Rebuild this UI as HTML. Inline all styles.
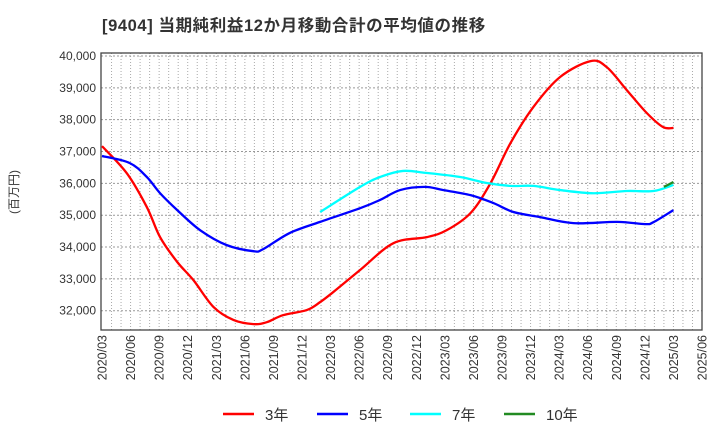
<!DOCTYPE html>
<html><head><meta charset="utf-8"><style>
body{margin:0;background:#fff;}
svg{display:block;font-family:"Liberation Sans","Noto Sans CJK JP",sans-serif;}
</style></head><body>
<svg id="chart" width="720" height="440" viewBox="0 0 720 440" xmlns="http://www.w3.org/2000/svg">
<text x="102" y="31" font-size="16.5" font-weight="bold" fill="#333" letter-spacing="0.6">[9404]  当期純利益12か月移動合計の平均値の推移</text>
<text transform="translate(18,192) rotate(-90)" font-size="12" fill="#333" text-anchor="middle">(百万円)</text>
<g id="grid"></g>
<g id="axes"></g>
<g id="series"></g>
<g id="legend"></g>
</svg>
<script>
const yTicks=[32000,33000,34000,35000,36000,37000,38000,39000,40000];
const xTickLabels=["2020/03","2020/06","2020/09","2020/12","2021/03","2021/06","2021/09","2021/12","2022/03","2022/06","2022/09","2022/12","2023/03","2023/06","2023/09","2023/12","2024/03","2024/06","2024/09","2024/12","2025/03","2025/06"];
const seriesNames=["3年","5年","7年","10年"];
const red_m=[0,2.6,4.7,6.1,7.9,9.6,11.7,13.8,15.9,17.3,19,21.5,22.9,24.3,27.1,30.6,34.1,36.2,38.7,40.8,42.9,45.3,48.1,51.3,53,55.1,57.2,58.9,60];
const red_v=[37170,36320,35260,34310,33530,32960,32120,31710,31580,31640,31860,32020,32270,32590,33280,34120,34310,34530,35070,36010,37270,38400,39340,39840,39650,38930,38210,37770,37740];
const blue_m=[0,2.9,4.7,6.1,7.9,10.3,13.1,15.9,16.9,19.7,22.9,27.1,29.2,31.3,33.9,35.8,38.7,41.1,43.2,46,49.5,54.1,57,57.9,60];
const blue_v=[36860,36640,36200,35690,35160,34530,34060,33870,33930,34440,34790,35220,35480,35790,35890,35790,35630,35380,35100,34940,34750,34790,34720,34780,35160];
const cyan_m=[22.9,27.1,29.2,31.6,34,37.6,40.4,42.9,45.3,48.1,51.6,55.1,57.9,60];
const cyan_v=[35100,35890,36200,36390,36330,36200,36010,35920,35920,35790,35690,35760,35760,35950];
const green_m=[59,60];
const green_v=[35890,36040];

const NS="http://www.w3.org/2000/svg";
const L=101,R=702,T=53,B=330;
const x0=102,pxPerMonth=(702-102)/63;
function xs(m){return x0+m*pxPerMonth;}
function ys(v){return 56+(40000-v)/1000*31.84;}
function mk(tag,attrs,parent){const e=document.createElementNS(NS,tag);for(const k in attrs)e.setAttribute(k,attrs[k]);parent.appendChild(e);return e;}
const grid=document.getElementById('grid'),axes=document.getElementById('axes'),ser=document.getElementById('series'),leg=document.getElementById('legend');
for(let m=1;m<63;m++){const l=mk('line',{x1:xs(m),x2:xs(m),y1:T,y2:B,stroke:'#aaa','stroke-width':1,'stroke-dasharray':'1,2'},grid);

}
for(let i=0;i<yTicks.length;i++){const y=ys(yTicks[i]);
const l=mk('line',{x1:L,x2:R,y1:y,y2:y,stroke:'#999','stroke-width':1,'stroke-dasharray':'2,2'},grid);


const t=mk('text',{x:96,y:y+4,'font-size':12,fill:'#333','text-anchor':'end'},axes);


t.textContent=yTicks[i].toLocaleString('en-US');}
const frame=mk('rect',{x:L,y:T,width:R-L,height:B-T,fill:'none',stroke:'#444','stroke-width':1.3},axes);


for(let i=0;i<xTickLabels.length;i++){const x=xs(i*3);
const t=mk('text',{transform:`translate(${x+4.5},335) rotate(-90)`,'font-size':12.5,fill:'#333','text-anchor':'end'},axes);


t.textContent=xTickLabels[i];}
function smooth(ms,vs){const p=ms.map((m,i)=>[xs(m),ys(vs[i])]);let d=`M${p[0][0]},${p[0][1]}`;
for(let i=0;i<p.length-1;i++){const p0=p[Math.max(0,i-1)],p1=p[i],p2=p[i+1],p3=p[Math.min(p.length-1,i+2)];
const c1=[p1[0]+(p2[0]-p0[0])/6,p1[1]+(p2[1]-p0[1])/6],c2=[p2[0]-(p3[0]-p1[0])/6,p2[1]-(p3[1]-p1[1])/6];
d+=` C${c1[0]},${c1[1]} ${c2[0]},${c2[1]} ${p2[0]},${p2[1]}`;}return d;}
const defs=[[red_m,red_v,'#ff0000','line-3yr'],[blue_m,blue_v,'#0000ff','line-5yr'],[cyan_m,cyan_v,'#00ffff','line-7yr'],[green_m,green_v,'#228b22','line-10yr']];
defs.forEach(s=>{const p=mk('path',{d:smooth(s[0],s[1]),fill:'none',stroke:s[2],'stroke-width':2.3,'stroke-linejoin':'round'},ser);

});
const lx=[223,317,410,504];
seriesNames.forEach((n,i)=>{const g=mk('g',{},leg);


mk('line',{x1:lx[i],x2:lx[i]+31,y1:414,y2:414,stroke:defs[i][2],'stroke-width':2.5},g);
const t=mk('text',{x:lx[i]+42,y:420,'font-size':15,fill:'#333'},g);
t.textContent=n;});
</script>
</body></html>
